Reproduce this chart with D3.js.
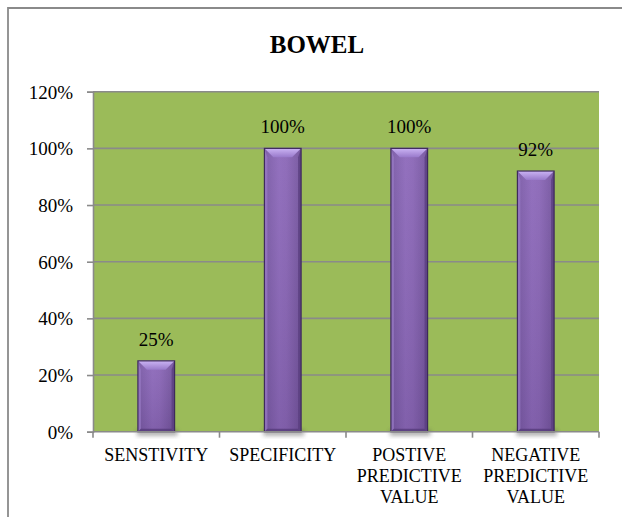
<!DOCTYPE html>
<html>
<head>
<meta charset="utf-8">
<script src="https://cdn.jsdelivr.net/npm/d3@7"></script>
<style>
  html, body { margin: 0; padding: 0; background: #ffffff; }
  svg { display: block; }
  svg text { font-family: "Liberation Serif", "Times New Roman", Times, serif; fill: #000; }
</style>
</head>
<body>
<svg id="chart" width="622" height="517"></svg>
<script>
// Diagnostic accuracy for bowel findings
const title = "BOWEL";
const categories = [
  ["SENSTIVITY"],
  ["SPECIFICITY"],
  ["POSTIVE", "PREDICTIVE", "VALUE"],
  ["NEGATIVE", "PREDICTIVE", "VALUE"]
];
const values = [0.25, 1.00, 1.00, 0.92];
const yTicks = [0, 0.2, 0.4, 0.6, 0.8, 1.0, 1.2];

const svg = d3.select("#chart");
const W = 622, H = 517;
const plot = { left: 93, right: 599, top: 91.7, bottom: 431.7 };
const serif = "'Liberation Serif', 'Times New Roman', Times, serif";

// Defs: gradients and shadow blur for the bevelled bars
const defs = svg.append("defs");
const body = defs.append("linearGradient").attr("id", "barBody").attr("x1", 0).attr("x2", 1).attr("y1", 0).attr("y2", 0);
body.append("stop").attr("offset", "0%").attr("stop-color", "#7858a4");
body.append("stop").attr("offset", "40%").attr("stop-color", "#8c68ba");
body.append("stop").attr("offset", "60%").attr("stop-color", "#8965b6");
body.append("stop").attr("offset", "100%").attr("stop-color", "#72529c");
const vert = defs.append("linearGradient").attr("id", "barVert").attr("x1", 0).attr("x2", 0).attr("y1", 0).attr("y2", 1);
vert.append("stop").attr("offset", "0%").attr("stop-color", "#ffffff").attr("stop-opacity", 0.06);
vert.append("stop").attr("offset", "100%").attr("stop-color", "#000000").attr("stop-opacity", 0.08);
const topG = defs.append("linearGradient").attr("id", "barTop").attr("x1", 0).attr("x2", 0).attr("y1", 0).attr("y2", 1);
topG.append("stop").attr("offset", "0%").attr("stop-color", "#cbb4f4");
topG.append("stop").attr("offset", "100%").attr("stop-color", "#9879ca");
defs.append("filter").attr("id", "shadowBlur").attr("x", "-50%").attr("y", "-50%").attr("width", "200%").attr("height", "200%")
  .append("feGaussianBlur").attr("stdDeviation", 2.2);

// Outer chart frame (continues past the right and bottom edges)
svg.append("path")
  .attr("d", `M8,${H + 2} L8,8 L${W + 2},8`)
  .attr("fill", "none").attr("stroke", "#8a8a8a").attr("stroke-width", 1.8);

// Title
svg.append("text")
  .attr("x", 317).attr("y", 53)
  .attr("text-anchor", "middle")
  .attr("font-family", serif)
  .attr("font-weight", "bold")
  .attr("font-size", 25)
  .text(title);

const y = d3.scaleLinear().domain([0, 1.2]).range([plot.bottom, plot.top]);
const x = d3.scaleBand().domain(d3.range(categories.length)).range([plot.left, plot.right]).padding(0);
const barW = x.bandwidth() * 0.29;

// Plot area background
svg.append("rect")
  .attr("x", plot.left).attr("y", plot.top)
  .attr("width", plot.right - plot.left).attr("height", plot.bottom - plot.top)
  .attr("fill", "#9bbb59");

// Horizontal gridlines
svg.append("g").selectAll("line").data(yTicks.slice(1)).join("line")
  .attr("x1", plot.left).attr("x2", plot.right)
  .attr("y1", d => y(d)).attr("y2", d => y(d))
  .attr("stroke", "#8a8a8a").attr("stroke-width", 1.6);

// Y axis
const yAxis = d3.axisLeft(y).tickValues(yTicks).tickFormat(d => Math.round(d * 100) + "%").tickSize(6).tickPadding(14);
const gy = svg.append("g").attr("transform", `translate(${plot.left},0)`).call(yAxis);
gy.attr("font-family", serif);
gy.select(".domain").attr("stroke", "#8a8a8a").attr("stroke-width", 1.6);
gy.selectAll(".tick line").attr("stroke", "#8a8a8a").attr("stroke-width", 1.6);
gy.selectAll(".tick text").attr("font-size", 19).attr("font-family", serif).attr("fill", "#000").attr("dy", "0.34em");

// Bars
const bars = svg.append("g").selectAll("g").data(values).join("g");
bars.each(function (v, i) {
  const g = d3.select(this);
  const cx = x(i) + x.bandwidth() / 2;
  const x0 = cx - barW / 2, x1 = cx + barW / 2;
  const y0 = y(v), y1 = y(0);
  const b = 9;
  // soft shadow under the bar
  g.append("rect").attr("x", x0 - 1).attr("y", y1 - 2).attr("width", barW + 4).attr("height", 6)
    .attr("fill", "#4d4d4d").attr("opacity", 0.45).attr("filter", "url(#shadowBlur)");
  g.append("rect").attr("x", x0).attr("y", y0).attr("width", barW).attr("height", y1 - y0)
    .attr("fill", "url(#barBody)");
  g.append("rect").attr("x", x0).attr("y", y0).attr("width", barW).attr("height", y1 - y0)
    .attr("fill", "url(#barVert)");
  // left and right bevel strips
  g.append("path").attr("d", `M${x0},${y0} L${x0 + 3},${y0 + b} L${x0 + 3},${y1 - 3} L${x0},${y1} Z`)
    .attr("fill", "#9a7cc6").attr("opacity", 0.7);
  g.append("path").attr("d", `M${x1},${y0} L${x1 - 3},${y0 + b} L${x1 - 3},${y1 - 3} L${x1},${y1} Z`)
    .attr("fill", "#5a3f80").attr("opacity", 0.8);
  // bottom bevel
  g.append("path").attr("d", `M${x0},${y1} L${x0 + 3},${y1 - 3} L${x1 - 3},${y1 - 3} L${x1},${y1} Z`)
    .attr("fill", "#553b7a").attr("opacity", 0.8);
  // top bevel
  g.append("path").attr("d", `M${x0},${y0} L${x1},${y0} L${x1 - b},${y0 + b} L${x0 + b},${y0 + b} Z`)
    .attr("fill", "url(#barTop)");
  // outline
  g.append("rect").attr("x", x0).attr("y", y0).attr("width", barW).attr("height", y1 - y0)
    .attr("fill", "none").attr("stroke", "#3e2a5c").attr("stroke-width", 1.2);
  // value label
  g.append("text").attr("x", cx).attr("y", y0 - 15)
    .attr("text-anchor", "middle").attr("font-size", 19).attr("font-family", serif)
    .text(Math.round(v * 100) + "%");
});

// X axis
const xAxisLine = svg.append("g");
xAxisLine.append("line").attr("x1", plot.left).attr("x2", plot.right)
  .attr("y1", plot.bottom).attr("y2", plot.bottom)
  .attr("stroke", "#8a8a8a").attr("stroke-width", 1.6);
const xEdges = d3.range(categories.length + 1).map(i => i < categories.length ? x(i) : plot.right);
xAxisLine.selectAll("line.t").data(xEdges).join("line").attr("class", "t")
  .attr("x1", d => d).attr("x2", d => d)
  .attr("y1", plot.bottom).attr("y2", plot.bottom + 6)
  .attr("stroke", "#8a8a8a").attr("stroke-width", 1.6);

// Category labels
const cat = svg.append("g").selectAll("text").data(categories).join("text")
  .attr("x", (d, i) => x(i) + x.bandwidth() / 2)
  .attr("y", 461)
  .attr("text-anchor", "middle")
  .attr("font-family", serif)
  .attr("font-size", 18);
cat.selectAll("tspan").data(d => d).join("tspan")
  .attr("x", function () { return d3.select(this.parentNode).attr("x"); })
  .attr("dy", (d, j) => j === 0 ? 0 : 21)
  .text(d => d);
</script>
</body>
</html>
